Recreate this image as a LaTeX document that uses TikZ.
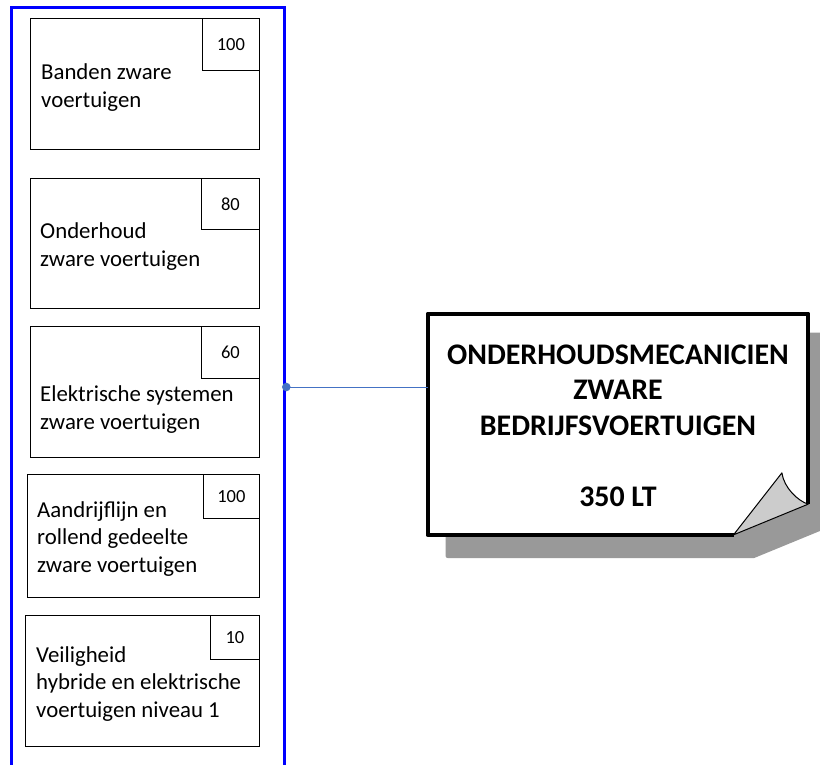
\documentclass[tikz,border=0pt]{standalone}
\usepackage{fontspec}
\setmainfont{Carlito}
\usepackage{xcolor}
\usetikzlibrary{calc,positioning}
\definecolor{linkblue}{HTML}{4472C4}

\begin{document}
\begin{tikzpicture}[x=1pt,y=-1pt,
	frame/.style={rectangle, draw=blue, line width=3pt, inner sep=0, minimum width=273.3pt, minimum height=800pt},
	module/.style={rectangle, draw=black, line width=1.2pt, inner sep=0, fill=white},
	num/.style={rectangle, draw=black, line width=1.2pt, inner sep=0, font=\fontsize{18.5}{22}\selectfont},
	lab/.style={inner sep=0, align=left, font=\fontsize{22.8}{27.3}\selectfont},
	jobbox/.style={rectangle, inner sep=0, minimum width=380pt, minimum height=220.7pt},
	jobtxt/.style={inner sep=0, align=center, font=\bfseries\fontsize{29.9}{35.5}\selectfont},
	clink/.style={line width=1pt, linkblue}]

		\useasboundingbox (0,0) rectangle (820,764);
		%frame
		\node[frame,anchor=north west] at (10,6) (frame) {};
		%modules
		\node[module,anchor=north east,minimum width=229pt,minimum height=131pt] at (260,18) (m1) {};
		\node[module,anchor=north east,minimum width=229pt,minimum height=130pt] at (260,178) (m2) {};
		\node[module,anchor=north east,minimum width=229pt,minimum height=131pt] at (260,326) (m3) {};
		\node[module,anchor=north east,minimum width=232pt,minimum height=123pt] at (260,474) (m4) {};
		\node[module,anchor=north east,minimum width=234pt,minimum height=131pt] at (260,615) (m5) {};
		%hours
		\node[num,anchor=north east,minimum width=57pt,minimum height=52pt] at (m1.north east) (w1) {100};
		\node[num,anchor=north east,minimum width=58pt,minimum height=51pt] at (m2.north east) (w2) {80};
		\node[num,anchor=north east,minimum width=58pt,minimum height=52pt] at (m3.north east) (w3) {60};
		\node[num,anchor=north east,minimum width=56pt,minimum height=44pt] at (m4.north east) (w4) {100};
		\node[num,anchor=north east,minimum width=49pt,minimum height=44pt] at (m5.north east) (w5) {10};
		%labels (base = last line)
		\node[lab,anchor=base west] at (41,107) (t1) {Banden zware\\voertuigen};
		\node[lab,anchor=base west] at (40,266) (t2) {Onderhoud\\zware voertuigen};
		\node[lab,anchor=base west] at (40,429) (t3) {Elektrische systemen\\zware voertuigen};
		\node[lab,anchor=base west] at (37,572) (t4) {Aandrijflijn en\\rollend gedeelte\\zware voertuigen};
		\node[lab,anchor=base west] at (36,717) (t5) {Veiligheid\\hybride en elektrische\\voertuigen niveau 1};

		%job card
		\node[jobbox] at (618,424.3) (job) {};
		\fill[black!40,draw=black!40,line width=4.5pt,line join=round] ([xshift=20pt,yshift=-21pt]job.north west) -- ([xshift=20pt,yshift=-21pt]job.north east) -- ([xshift=20pt,yshift=9.7pt]job.south east) -- ([xshift=-54.7pt,yshift=-21pt]job.south east) -- ([xshift=20pt,yshift=-21pt]job.south west) -- cycle;
		\fill[white] (job.north west) -- (job.north east) -- ([yshift=30.7pt]job.south east) -- ([xshift=-74.7pt]job.south east) -- (job.south west) -- cycle;
		\draw[line width=4.5pt,line join=round] ([xshift=-74.7pt]job.south east) -- (job.south west) -- (job.north west) -- (job.north east) -- ([yshift=30.7pt]job.south east);
		\draw[fill=black!20,line width=1pt,line join=round] ([xshift=-74.7pt]job.south east) -- ([xshift=-26.3pt,yshift=62pt]job.south east) coordinate (tip) .. controls +(2,15) and +(-10,-3) .. ([yshift=30.7pt]job.south east) -- cycle;
		\node[jobtxt,anchor=base] at (618,506) (title) {ONDERHOUDSMECANICIEN\\ZWARE\\BEDRIJFSVOERTUIGEN\\[35.5pt]350 LT};

		%link
		\coordinate (tap) at (frame.east |- 0,387);
		\draw[clink] (tap) -- (tap -| job.west);
		\fill[linkblue] (tap) circle (4.3pt);
	\end{tikzpicture}
\end{document}
